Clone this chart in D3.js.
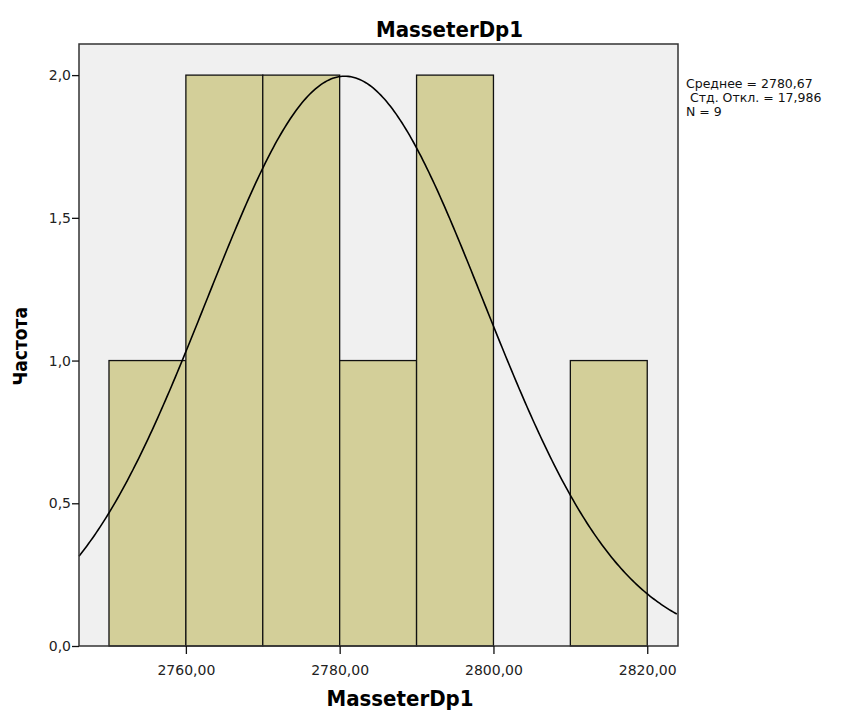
<!DOCTYPE html>
<html>
<head>
<meta charset="utf-8">
<script src="https://cdn.jsdelivr.net/npm/d3@7"></script>
<style>
  body { margin: 0; background: #fff; }
  .tick text { font-family: "DejaVu Sans", sans-serif; font-size: 14px; fill: #222; }
  .title { font-family: "Liberation Sans Narrow", "DejaVu Sans Condensed", sans-serif; font-weight: bold; }
</style>
</head>
<body>
<div id="chart"></div>
<script>
// histogram bins (lower edge) and counts
var binStarts = [2750, 2760, 2770, 2780, 2790, 2800, 2810];
var binWidth = 10;
var counts = [1, 2, 2, 1, 2, 0, 1];
var xTicks = [2760, 2780, 2800, 2820];
var yTicks = [0, 0.5, 1.0, 1.5, 2.0];
// summary stats printed beside the chart
var mean = 2780.67, sd = 17.986, n = 9;
var statLines = ["Среднее = 2780,67", " Стд. Откл. = 17,986", "N = 9"];

var W = 851, H = 711;
var margin = {top: 44, right: 173, bottom: 65, left: 79},
    width = W - margin.left - margin.right,
    height = H - margin.top - margin.bottom;

var svg = d3.select("#chart")
  .append("svg")
    .attr("width", W)
    .attr("height", H);

var g = svg.append("g")
    .attr("transform", "translate(" + margin.left + "," + margin.top + ")");

var x = d3.scaleLinear()
  .domain([2746.1, 2824.0])
  .range([0, width]);

var y = d3.scaleLinear()
  .domain([0, 2.109])
  .range([height, 0]);

var fmt = function(d) { return d3.format(".1f")(d).replace(".", ","); };

// plot background
g.append("rect")
  .attr("width", width)
  .attr("height", height)
  .attr("fill", "#f0f0f0");

// bars
g.selectAll("rect.bar")
  .data(binStarts.map(function(s, i) { return {x0: s, x1: s + binWidth, c: counts[i]}; })
        .filter(function(d) { return d.c > 0; }))
  .enter()
  .append("rect")
    .attr("class", "bar")
    .attr("x", function(d) { return x(d.x0); })
    .attr("y", function(d) { return y(d.c); })
    .attr("width", function(d) { return x(d.x1) - x(d.x0); })
    .attr("height", function(d) { return height - y(d.c); })
    .attr("fill", "#d3cf99")
    .attr("stroke", "#111")
    .attr("stroke-width", 1.3);

// normal curve from the printed mean / sd, scaled to counts
var dens = function(v) {
  return n * binWidth / (sd * Math.sqrt(2 * Math.PI)) * Math.exp(-0.5 * Math.pow((v - mean) / sd, 2));
};
var xs = d3.range(x.domain()[0], x.domain()[1] + 0.01, 0.25);
g.append("path")
  .datum(xs)
  .attr("fill", "none")
  .attr("stroke", "#000")
  .attr("stroke-width", 1.6)
  .attr("d", d3.line()
    .x(function(d) { return x(d); })
    .y(function(d) { return y(dens(d)); }));

// frame
g.append("rect")
  .attr("width", width)
  .attr("height", height)
  .attr("fill", "none")
  .attr("stroke", "#333")
  .attr("stroke-width", 1.5);

// axes
var xAxis = g.append("g")
  .attr("transform", "translate(0," + height + ")")
  .call(d3.axisBottom(x).tickValues(xTicks).tickSize(8).tickSizeOuter(0)
    .tickFormat(function(d) { return d3.format(".2f")(d).replace(".", ","); }));
xAxis.select(".domain").remove();
xAxis.selectAll("line").attr("stroke", "#111").attr("stroke-width", 1.3);
xAxis.selectAll("text").attr("dy", "1.25em");

var yAxis = g.append("g")
  .call(d3.axisLeft(y).tickValues(yTicks).tickSize(7).tickSizeOuter(0).tickFormat(fmt));
yAxis.select(".domain").remove();
yAxis.selectAll("line").attr("stroke", "#111").attr("stroke-width", 1.3);
yAxis.selectAll("text").attr("x", -8);

// title and axis labels
svg.append("text")
  .attr("class", "title")
  .attr("x", margin.left + width / 2 + 71)
  .attr("y", 37)
  .attr("text-anchor", "middle")
  .attr("font-size", 22)
  .text("MasseterDp1");

svg.append("text")
  .attr("class", "title")
  .attr("x", 400)
  .attr("y", 706)
  .attr("text-anchor", "middle")
  .attr("font-size", 22)
  .text("MasseterDp1");

svg.append("text")
  .attr("class", "title")
  .attr("transform", "translate(27," + (margin.top + y(1.05)) + ") rotate(-90)")
  .attr("text-anchor", "middle")
  .attr("font-size", 19)
  .text("Частота");

// stats box text
svg.append("g")
  .selectAll("text")
  .data(statLines)
  .enter()
  .append("text")
    .attr("x", 686)
    .attr("y", function(d, i) { return 88 + i * 14; })
    .attr("font-family", "DejaVu Sans, sans-serif")
    .attr("font-size", 12.5)
    .attr("fill", "#111")
    .attr("xml:space", "preserve")
    .style("white-space", "pre")
    .text(function(d) { return d; });
</script>
</body>
</html>
